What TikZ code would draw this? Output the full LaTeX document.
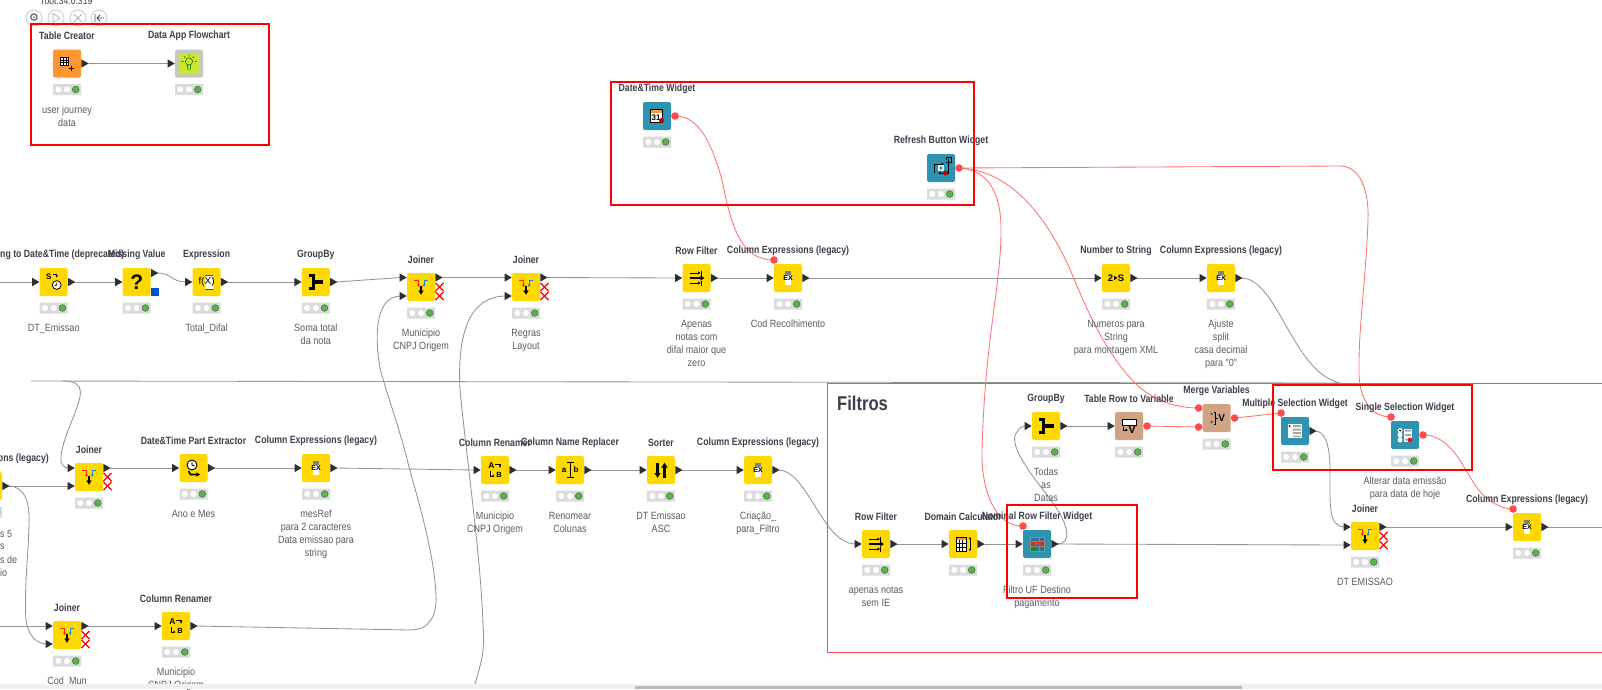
\documentclass[tikz,border=0pt]{standalone}
\usepackage{fontspec}
\setmainfont{Liberation Sans}
\newfontfamily\labfont[FakeStretch=0.83]{Liberation Sans}
\newfontfamily\descfont[FakeStretch=0.86]{Liberation Sans}
\newfontfamily\symfont{DejaVu Sans}
\usetikzlibrary{arrows.meta}
\pgfdeclarelayer{bg}\pgfdeclarelayer{top}
\pgfsetlayers{bg,main,top}
\definecolor{kyel}{HTML}{FFD800}
\definecolor{kora}{HTML}{FF9632}
\definecolor{kblu}{HTML}{2E93B1}
\definecolor{ktan}{HTML}{CFA384}
\definecolor{kgrn}{HTML}{5DB14F}
\definecolor{kgry}{HTML}{DADCDB}
\definecolor{wire}{HTML}{949494}
\definecolor{flow}{HTML}{FF7272}
\definecolor{flowdot}{HTML}{FF4B4B}
\definecolor{ptxt}{HTML}{3E3F4C}
\definecolor{dtxt}{HTML}{5A5B64}
\tikzset{
 x=1pt,y=-1pt,
 knbox/.style={rounded corners=2pt,minimum size=28pt,inner sep=0pt,draw=none},
 kyellow/.style={knbox,fill=kyel},
 korange/.style={knbox,fill=kora},
 kblue/.style={knbox,fill=kblu},
 ktanbox/.style={knbox,fill=ktan},
 kgraybox/.style={knbox,fill=black!22},
 knlab/.style={inner sep=0pt,text=ptxt,font=\labfont\bfseries\fontsize{10.5}{12}\selectfont},
 kndesc/.style={anchor=north,inner sep=0pt,align=center,text=dtxt,font=\descfont\fontsize{10.5}{13}\selectfont},
 knstat/.style={minimum width=28pt,minimum height=11pt,inner sep=0pt,fill=kgry,rounded corners=.5pt},
 wirel/.style={draw=wire,line width=.85pt},
 flowl/.style={draw=flow,line width=.85pt},
 portt/.style={fill=black!82},
 ic/.style={draw=black,line width=.6pt},
 redbox/.style={draw=red,line width=2.6pt},
 bar/.style={draw=black!80,line width=.8pt},
 toolc/.style={draw=black!18,fill=white,line width=1pt},
}
\newcommand\kn[7]{%
 \begin{scope}[shift={(#2,#3)}]
  \def\cn{#1}
  \node[#4] (#1) at (0,0) {};
  \node[knlab] (#1-l) at (0,-27.5) {#5};
  \node[knstat] (#1-s) at (0,26) {};
  \fill[white] (-8.7,26) circle (3) (0,26) circle (3);
  \fill[kgrn,draw=black!35!kgrn,line width=.5pt] (8.7,26) circle (3.4);
  \node[kndesc] (#1-d) at (0,42) {#6};
  #7
 \end{scope}}
\newcommand\pIn[2]{\coordinate (\cn-#1) at (-20,#2);\fill[portt] (-21.5,{#2-4.2}) -- (-14.3,#2) -- (-21.5,{#2+4.2}) -- cycle;}
\newcommand\pOut[2]{\coordinate (\cn-#1) at (20,#2);\fill[portt] (14.3,{#2-4.2}) -- (21.5,#2) -- (14.3,{#2+4.2}) -- cycle;}
\newcommand\pFlow[3]{\coordinate (\cn-#1) at (#2,#3);\fill[flowdot] (#2,#3) circle (3.8);}
\newcommand\icX{\draw[red,line width=1.2pt] (14.5,-4)--(22.5,4) (22.5,-4)--(14.5,4) (14.5,5)--(22.5,13) (22.5,5)--(14.5,13);}
\newcommand\icTable{\fill[white] (-6.5,-6) rectangle (1.5,1.5);\draw[ic] (-6.5,-6) rectangle (1.5,1.5) (-6.5,-3.5)--(1.5,-3.5) (-6.5,-1)--(1.5,-1) (-3.8,-6)--(-3.8,1.5) (-1.2,-6)--(-1.2,1.5);\draw[line width=1.4pt] (2,4.7)--(7,4.7) (4.5,2.2)--(4.5,7.2);}
\newcommand\icBulb{\fill[rounded corners=1pt,fill={rgb,255:red,200;green,230;blue,50}] (-10.5,-10.5) rectangle (10.5,10.5);\draw[black!60!green,line width=.5pt] (0,-2) circle (3.6) (-1.6,1.5)--(-1.4,5.5)--(1.4,5.5)--(1.6,1.5) (-8,-2)--(-5.5,-2) (5.5,-2)--(8,-2) (0,-9)--(0,-7) (-5,-7)--(-3.6,-5.6) (5,-7)--(3.6,-5.6);}
\newcommand\icSDT{\node[inner sep=0pt,font=\bfseries\fontsize{8}{8}\selectfont] at (-5,-5) {S};\draw[line width=.7pt,-{Latex[length=2pt,width=2.5pt]}] (-1,-7.5)--(3,-7.5)--(3,-4.5);\fill[white] (3,3) circle (4.4);\draw[ic,line width=.8pt] (3,3) circle (4.4) (3,.5)--(3,3)--(1,3.8);}
\newcommand\icQ{\node[inner sep=0pt,font=\bfseries\fontsize{21}{21}\selectfont] at (0,0) {?};}
\newcommand\icExpr{\fill[white] (-2,-7) rectangle (6,7);\draw[black!70,line width=.6pt] (-2,-7)--(6,-7) (-2,7)--(6,7);\node[inner sep=0pt,font=\fontsize{10}{10}\selectfont] at (0,0) {f(X)};}
\newcommand\icGroup{\draw[line width=3.2pt,line join=miter] (-7,-6.5)--(-2.5,-6.5)--(-2.5,6.5)--(-7,6.5) (-2.5,0)--(7.5,0);}
\newcommand\icJoin{\draw[draw=red!70!orange,line width=.9pt,-{Latex[length=2.5pt,width=3.5pt]}] (-7,-6.5)--(-2.5,-6.5)--(-2.5,0);\draw[draw=cyan!70!blue,line width=.9pt,-{Latex[length=2.5pt,width=3.5pt]}] (7,-6.5)--(3,-6.5)--(3,0);\draw[line width=1.2pt,-{Latex[length=4.5pt,width=6pt]}] (0,-1)--(0,8);}
\newcommand\icFilter{\draw[line width=.8pt,-{Latex[length=2.5pt,width=3.5pt]}] (-7,-5)--(4,-5);\draw[line width=.8pt] (4.8,-7.5)--(4.8,-2.5) (4.8,2.5)--(4.8,7.5);\draw[line width=.8pt,-{Latex[length=2.5pt,width=3.5pt]}] (-7,5)--(4,5);\draw[line width=1.4pt,-{Latex[length=4pt,width=6pt]}] (-7,0)--(8,0);}
\newcommand\icEX{\fill[white] (-3,-7) rectangle (3,7);\fill[black!50] (-3,-7) rectangle (3,-3);\node[inner sep=0pt,font=\bfseries\fontsize{7}{7}\selectfont] at (0,0) {EX};}
\newcommand\icCal{\fill[white] (-7,-7) rectangle (5,6);\fill[kora] (-7,-7) rectangle (5,-3.5);\draw[line width=.7pt] (-7,-7) rectangle (5,6);\node[inner sep=0pt,font=\bfseries\fontsize{8}{8}\selectfont] at (-1,1.5) {31};\fill[red!75!black] (4.5,4.5) circle (2.5);}
\newcommand\icRefresh{\draw[line width=.8pt,-{Latex[length=2.5pt,width=3pt]}] (-7,5)--(-7,-4)--(3,-4);\draw[line width=.8pt,-{Latex[length=2.5pt,width=3pt]}] (7,-9)--(7,5)--(-3,5);\fill[white!85!kblu] (-3,-3) rectangle (3,3);\fill[kblu] (-1,-1.8)--(1.8,0)--(-1,1.8)--cycle;\fill[red!75!black] (4.5,5) circle (2.5);\draw[line width=.7pt] (5,-8)--(5,-11)--(10,-11)--(10,-8) (5,-6)--(10,-6)--(10,-8);}
\newcommand\icNS{\node[inner sep=0pt,font=\bfseries\fontsize{9.5}{9.5}\selectfont] at (-5.5,.5) {2};\fill (-1.8,-2)--(1.5,0)--(-1.8,2)--cycle;\node[inner sep=0pt,font=\bfseries\fontsize{9.5}{9.5}\selectfont] at (5,.5) {S};}
\newcommand\icTRV{\fill[white] (-7,-6.5) rectangle (7,-1);\draw[line width=.8pt] (-7,-6.5) rectangle (7,-1);\draw[line width=.8pt,-{Latex[length=2.5pt,width=3pt]}] (-6,0.5)--(-6,4)--(-1,4);\node[inner sep=0pt,font=\bfseries\fontsize{10.5}{10.5}\selectfont] at (3,4) {V};}
\newcommand\icMerge{\fill[black!70] (-5,-4) circle (1.3) (-5,4) circle (1.3);\draw[line width=.8pt] (-2.5,-6)--(-1,-6)--(-1,6)--(-2.5,6) (-1,0)--(1,0);\node[inner sep=0pt,font=\bfseries\fontsize{10}{10}\selectfont] at (5,0) {V};}
\newcommand\icMulti{\fill[white] (-7,-7) rectangle (7,7);\fill[black] (-5.5,-5) circle (1);\fill[black!35] (-2,-6) rectangle (6,-4) (-2,-2.5) rectangle (6,-.5) (-2,1) rectangle (6,3) (-2,4.5) rectangle (6,6);}
\newcommand\icSingle{\fill[white] (-5,-4.5) circle (2.5) (-5,0) circle (2.5) (-5,5) circle (2.5);\fill[black] (-5,-4.5) circle (1);\fill[white] (-1,-6.5) rectangle (7,6.5);\fill[black!35] (0,-5.5) rectangle (6,-3.5) (0,-1) rectangle (6,1) (0,3.5) rectangle (6,5.5);\fill[red] (5,5) circle (2.3);}
\newcommand\icExtract{\fill[white] (-1.5,-3) circle (5);\draw[line width=.9pt] (-1.5,-3) circle (5) (-1.5,-6)--(-1.5,-3)--(1,-2);\draw[line width=1.6pt,-{Latex[length=4pt,width=5pt]}] (-5,3)--(-3,6.5)--(7,6.5);}
\newcommand\icRename{\node[inner sep=0pt,font=\bfseries\fontsize{8.5}{8.5}\selectfont] at (-3.5,-4) {A};\draw[line width=.8pt,-{Latex[length=2pt,width=3pt]}] (0,-6)--(5,-6)--(5,-2.5);\draw[line width=.8pt,-{Latex[length=2pt,width=3pt]}] (-4.5,1)--(-4.5,6)--(-.5,6);\node[inner sep=0pt,font=\bfseries\fontsize{7.5}{7.5}\selectfont] at (4,4.5) {B};}
\newcommand\icReplace{\node[inner sep=0pt,font=\bfseries\fontsize{8}{8}\selectfont] at (-6,0) {a};\node[inner sep=0pt,font=\bfseries\fontsize{8}{8}\selectfont] at (6,0) {b};\draw[line width=1pt] (-3.5,-7.5)--(3.5,-7.5) (0,-7.5)--(0,7.5) (-3.5,7.5)--(3.5,7.5);}
\newcommand\icSort{\draw[line width=2.4pt,-{Latex[length=5pt,width=7pt]}] (-3.5,-7.5)--(-3.5,8);\draw[line width=2.4pt,-{Latex[length=5pt,width=7pt]}] (3.5,8)--(3.5,-7.5);}
\newcommand\icDomain{\fill[white] (-7,-7) rectangle (3,7);\fill[kora] (-7,-7) rectangle (3,-4);\draw[line width=.6pt] (-7,-7) rectangle (3,7) (-7,-1)--(3,-1) (-7,3)--(3,3) (-3.7,-4)--(-3.7,7) (-.3,-4)--(-.3,7);\draw[line width=.7pt,{Latex[length=2pt,width=3pt]}-{Latex[length=2pt,width=3pt]}] (7,-7)--(7,7);}
\newcommand\icNominal{\fill[cyan!60!blue] (-7,-7) rectangle (-2,-2.5);\fill[red!80!orange] (-7,-2.5) rectangle (-2,2);\fill[green!60!black] (-7,2) rectangle (-2,7);\fill[kblu!80!black] (-2,-7) rectangle (7,7);\draw[black!45,line width=.4pt] (-7,-7) rectangle (7,7) (2.5,-7)--(2.5,7) (-7,-2.5)--(7,-2.5) (-7,2)--(7,2);\fill[red!80!orange,rounded corners=1pt] (-5,-2) rectangle (6,2);\fill[black!55] (-3,-.8) rectangle (4,.8);}
\begin{document}
\begin{tikzpicture}
\useasboundingbox (0,0) rectangle (1602,689);
% toolbar
\node[inner sep=0pt,font=\descfont\fontsize{10}{10}\selectfont,text=ptxt] (roottxt) at (67,1) {root.34.0.319};
\draw[toolc] (34,18) circle (8);\node[inner sep=0pt,font=\symfont\fontsize{11}{11}\selectfont,text=black!70] (toolgear) at (34,18) {⚙};
\draw[toolc] (56,18) circle (8);\draw[black!30,line width=.7pt] (53,13.5)--(60,18)--(53,22.5)--cycle;
\draw[toolc] (78,18) circle (8);\draw[black!30,line width=.8pt] (74,14)--(82,22) (82,14)--(74,22);
\draw[toolc] (99,18) circle (8);\draw[black!70,line width=.8pt] (95,14)--(95,22) (104,18)--(97,18) (100,15)--(97,18)--(100,21);
% row top
\kn{tc}{67}{63.5}{korange}{Table Creator}{user journey\\data}{\pOut{o}{0}\icTable}
\kn{da}{189}{63.5}{kgraybox}{Data App Flowchart}{}{\pIn{i}{0}\icBulb}
\kn{dw}{657}{116}{kblue}{Date\&Time Widget}{}{\pFlow{v}{18}{0}\icCal}
\kn{rb}{941}{168}{kblue}{Refresh Button Widget}{}{\pFlow{v}{18}{0}\icRefresh}
% row 1
\coordinate (startA) at (0,282);
\kn{sd}{53.7}{282}{kyellow}{}{DT\_Emissao}{\pIn{i}{0}\pOut{o}{0}\icSDT}
\node[knlab,anchor=west] (sdlabel) at (0,255) {ng to Date\&Time (deprecated)};
\kn{mv}{136.7}{282}{kyellow}{Missing Value}{}{\pIn{i}{0}\pOut{o}{-9}\fill[blue!60!cyan!80!black] (14.3,6) rectangle (22.3,13.5);\icQ}
\kn{ex}{206.6}{282}{kyellow}{Expression}{Total\_Difal}{\pIn{i}{0}\pOut{o}{0}\icExpr}
\kn{gb}{315.8}{282}{kyellow}{GroupBy}{Soma total\\da nota}{\pIn{i}{0}\pOut{o}{0}\icGroup}
\kn{ja}{421}{287}{kyellow}{Joiner}{Municipio\\CNPJ Origem}{\pIn{i}{-9.5}\pIn{j}{9}\pOut{o}{-9.5}\icX\icJoin}
\kn{jc}{526}{287}{kyellow}{Joiner}{Regras\\Layout}{\pIn{i}{-9.5}\pIn{j}{9}\pOut{o}{-9.5}\icX\icJoin}
\kn{rf}{696.5}{278}{kyellow}{Row Filter}{Apenas\\notas com\\difal maior que\\zero}{\pIn{i}{0}\pOut{o}{0}\icFilter}
\kn{ce}{788}{278}{kyellow}{Column Expressions (legacy)}{Cod Recolhimento}{\pIn{i}{0}\pOut{o}{0}\pFlow{f}{-14}{-18}\icEX}
\kn{ns}{1116}{278}{kyellow}{Number to String}{Numeros para\\String\\para montagem XML}{\pIn{i}{0}\pOut{o}{0}\icNS}
\kn{cb}{1221}{278}{kyellow}{Column Expressions (legacy)}{Ajuste\\split\\casa decimal\\para "0"}{\pIn{i}{0}\pOut{o}{0}\icEX}
% left row 2
\kn{lc}{-12}{486}{kyellow}{}{}{\pOut{o}{0}\icEX}
\node[knlab,anchor=east] (lclabel) at (49,459) {ons (legacy)};
\node[kndesc,anchor=west] (lcd1) at (0,534) {s 5};
\node[kndesc,anchor=west] (lcd2) at (0,547) {s};
\node[kndesc,anchor=west] (lcd3) at (0,560) {s de};
\node[kndesc,anchor=west] (lcd4) at (0,573) {io};
\kn{jl}{89}{477}{kyellow}{Joiner}{}{\pIn{i}{-9}\pIn{j}{9}\pOut{o}{-9}\icX\icJoin}
\kn{dp}{193.5}{468}{kyellow}{Date\&Time Part Extractor}{Ano e Mes}{\pIn{i}{0}\pOut{o}{0}\icExtract}
\kn{cm}{316}{468}{kyellow}{Column Expressions (legacy)}{mesRef\\para 2 caracteres\\Data emissao para\\string}{\pIn{i}{0}\pOut{o}{0}\icEX}
\kn{rn}{495}{470}{kyellow}{Column Renamer}{Municipio\\CNPJ Origem}{\pIn{i}{0}\pOut{o}{0}\icRename}
\kn{nr}{570}{470}{kyellow}{Column Name Replacer}{Renomear\\Colunas}{\pIn{i}{0}\pOut{o}{0}\icReplace}
\kn{so}{661}{470}{kyellow}{Sorter}{DT Emissao\\ASC}{\pIn{i}{0}\pOut{o}{0}\icSort}
\kn{cc}{758}{470}{kyellow}{Column Expressions (legacy)}{Criação\_\\para\_Filtro}{\pIn{i}{0}\pOut{o}{0}\icEX}
% bottom left
\coordinate (startB) at (0,626);
\kn{jb}{67}{635}{kyellow}{Joiner}{Cod\_Mun}{\pIn{i}{-9}\pIn{j}{9}\pOut{o}{-9}\icX\icJoin}
\kn{rc}{176}{626}{kyellow}{Column Renamer}{Municipio\\CNPJ Origem}{\pIn{i}{0}\pOut{o}{0}\icRename}
% filtros
\node[inner sep=0pt,anchor=west,text=ptxt,font=\labfont\bfseries\fontsize{20}{20}\selectfont] (filtros) at (837,403) {Filtros};
\kn{fg}{1046}{426}{kyellow}{GroupBy}{Todas\\as\\Datas}{\pIn{i}{0}\pOut{o}{0}\icGroup}
\kn{tr}{1129}{426}{ktanbox}{Table Row to Variable}{}{\pIn{i}{0}\pFlow{v}{18}{0}\icTRV}
\kn{mg}{1216.6}{418}{ktanbox}{Merge Variables}{}{\pFlow{f}{-18}{-10}\pFlow{g}{-18}{9}\pFlow{v}{18}{0}\icMerge}
\kn{ms}{1295}{431}{kblue}{Multiple Selection Widget}{}{\pFlow{f}{-14}{-18}\pOut{o}{0}\icMulti}
\kn{ss}{1405}{435}{kblue}{Single Selection Widget}{Alterar data emissão\\para data de hoje}{\pFlow{f}{-14}{-18}\pFlow{v}{18}{0}\icSingle}
\kn{fr}{876}{544}{kyellow}{Row Filter}{apenas notas\\sem IE}{\pIn{i}{0}\pOut{o}{0}\icFilter}
\kn{dc}{963}{544}{kyellow}{Domain Calculator}{}{\pIn{i}{0}\pOut{o}{0}\icDomain}
\kn{nw}{1037}{544}{kblue}{Nominal Row Filter Widget}{Filtro UF Destino\\pagamento}{\pIn{i}{0}\pOut{o}{0}\pFlow{f}{-14}{-18}\icNominal}
\kn{dj}{1365}{536}{kyellow}{Joiner}{DT EMISSAO}{\pIn{i}{-9}\pIn{j}{9}\pOut{o}{-9}\icX\icJoin}
\kn{cf}{1527}{527}{kyellow}{Column Expressions (legacy)}{}{\pIn{i}{0}\pOut{o}{0}\pFlow{f}{-14}{-18}\icEX}
\coordinate (endR) at (1602,527);
\coordinate (gR) at (1340,383);
\coordinate (gL) at (31,381);
\coordinate (gB) at (62,381);
\coordinate (botJ) at (475,684);
\begin{pgfonlayer}{bg}
\fill[white] (0,0) rectangle (1602,689);
\draw[draw=flowdot,line width=1pt] (1620,383) -- (827,383) -- (827,652) -- (1620,652);
% gray connectors
\draw[wirel] (tc-o) -- (da-i);
\draw[wirel] (startA) -- (sd-i);
\draw[wirel] (sd-o) -- (mv-i);
\draw[wirel] (mv-o) .. controls +(16,0) and +(-16,0) .. (ex-i);
\draw[wirel] (ex-o) -- (gb-i);
\draw[wirel] (gb-o) -- (ja-i);
\draw[wirel] (ja-o) -- (jc-i);
\draw[wirel] (jc-o) -- (rf-i);
\draw[wirel] (rf-o) -- (ce-i);
\draw[wirel] (ce-o) -- (ns-i);
\draw[wirel] (ns-o) -- (cb-i);
\draw[wirel] (cb-o) .. controls (1278,278) and (1292,372) .. (gR) -- (gL);
\draw[wirel] (gB) .. controls (88,381) and (82,395) .. (71,423) .. controls (58,455) and (58,468) .. (jl-i);
\draw[wirel] (lc-o) -- (jl-j);
\draw[wirel] (lc-o) .. controls (24,486) and (30,500) .. (29,525) .. controls (28,560) and (24,590) .. (26,620) .. controls (28,635) and (36,644) .. (jb-j);
\draw[wirel] (startB) -- (jb-i);
\draw[wirel] (jb-o) -- (rc-i);
\draw[wirel] (rc-o) -- (410,630) .. controls (430,630) and (437,615) .. (436,595) .. controls (434,550) and (415,490) .. (408,463) .. controls (400,430) and (384,385) .. (380,368) .. controls (376,345) and (372,296) .. (ja-j);
\draw[wirel] (botJ) .. controls (482,660) and (485,650) .. (483,625) .. controls (481,560) and (468,470) .. (460,390) .. controls (458,350) and (462,296) .. (jc-j);
\draw[wirel] (jl-o) -- (dp-i);
\draw[wirel] (dp-o) -- (cm-i);
\draw[wirel] (cm-o) -- (rn-i);
\draw[wirel] (rn-o) -- (nr-i);
\draw[wirel] (nr-o) -- (so-i);
\draw[wirel] (so-o) -- (cc-i);
\draw[wirel] (cc-o) .. controls (808,470) and (822,544) .. (fr-i);
\draw[wirel] (fr-o) -- (dc-i);
\draw[wirel] (dc-o) -- (nw-i);
\draw[wirel] (nw-o) -- (dj-j);
\draw[wirel] (nw-o) .. controls (1072,544) and (1069,525) .. (1053,503) .. controls (1040,485) and (1005,445) .. (1017,432) .. controls (1019,428) and (1022,426) .. (fg-i);
\draw[wirel] (fg-o) -- (tr-i);
\draw[wirel] (ms-o) .. controls (1325,431) and (1330,445) .. (1330,470) .. controls (1330,505) and (1328,527) .. (dj-i);
\draw[wirel] (dj-o) -- (cf-i);
\draw[wirel] (cf-o) -- (endR);
% flow variable connectors
\draw[flowl] (dw-v) .. controls (700,116) and (712,145) .. (722,180) .. controls (732,230) and (742,260) .. (ce-f);
\draw[flowl] (rb-v) .. controls (990,170) and (1002,195) .. (1001,235) .. controls (1000,290) and (985,340) .. (982,450) .. controls (981,490) and (995,527) .. (nw-f);
\draw[flowl] (rb-v) .. controls (1010,170) and (1045,215) .. (1069,267) .. controls (1085,305) and (1105,355) .. (1139,387) .. controls (1155,400) and (1175,408) .. (mg-f);
\draw[flowl] (rb-v) -- (1340,166) .. controls (1360,166) and (1369,190) .. (1368,220) .. controls (1366,280) and (1358,330) .. (1359,375) .. controls (1360,400) and (1372,417) .. (ss-f);
\draw[flowl] (tr-v) -- (mg-g);
\draw[flowl] (mg-v) -- (ms-f);
\draw[flowl] (ss-v) .. controls (1450,435) and (1462,465) .. (1475,485) .. controls (1485,500) and (1500,509) .. (cf-f);
\end{pgfonlayer}
\begin{pgfonlayer}{top}
\draw[redbox] (31,24) rectangle (269,145);
\draw[redbox] (611,82) rectangle (974,205);
\draw[redbox] (1273,385) rectangle (1472,470);
\draw[redbox] (1007,505) rectangle (1137,598);
\fill[black!6] (0,684) rectangle (1602,689);
\fill[black!27] (635,686) rectangle (1242,689);
\end{pgfonlayer}
\end{tikzpicture}
\end{document}
